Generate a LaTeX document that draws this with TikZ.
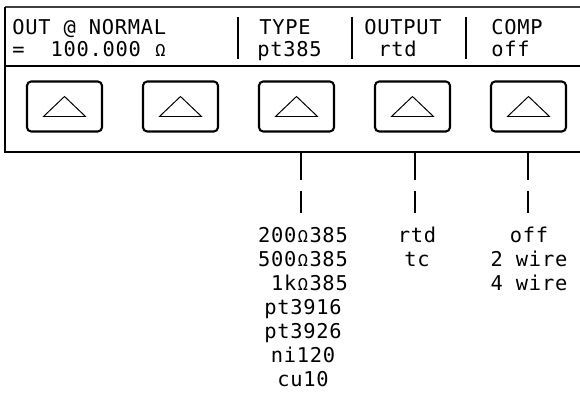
\documentclass[tikz,border=0pt]{standalone}
\usepackage{fontspec}
\newfontfamily\lcdfont[LetterSpace=3.6]{DejaVu Sans Mono}
\newcommand{\ohmsign}{\makebox[9.25pt][c]{\fontsize{12}{12}\selectfont Ω}}
\usetikzlibrary{positioning}

\begin{document}
\begin{tikzpicture}[x=0.025cm,y=-0.025cm, every node/.style={font=\lcdfont\fontsize{14.5}{17.07}\selectfont,inner sep=0pt},
key/.style={draw,line width=1.5pt,rounded corners=3pt,minimum width=1.875cm,minimum height=1.25cm},
frame/.style={line width=0.9pt},
lcd/.style={anchor=base west},
bar/.style={line width=1.5pt},
choices/.style={align=center,anchor=north},
lead/.style={line width=0.8pt}]
\useasboundingbox (0,0) rectangle (580,393);
% front panel
\draw[line width=1.5pt,black!75] (5,7) -- (580,7);
\draw[frame] (5,7) -- (5,152) -- (580,152);
\draw[frame] (5,66) -- (580,66);
% display
\node[lcd] (mode) at (12,35) {OUT @ NORMAL};
\node[lcd] (value) at (12,57) {=\ \ 100.000 \ohmsign};
\node[lcd] (typehd) at (259,35) {TYPE};
\node[lcd] (typeval) at (257,57) {pt385};
\node[lcd] (outhd) at (364,35) {OUTPUT};
\node[lcd] (outval) at (378,57) {rtd};
\node[lcd] (comphd) at (491,35) {COMP};
\node[lcd] (compval) at (491,57) {off};
\foreach \x in {238,352,466}
  \draw[bar] (\x,17) -- (\x,59);
% softkeys
\foreach \i in {1,...,5}{
  \node[key] (k\i) at (-51.5+116*\i,106.5) {};
  \draw[line width=0.7pt] ([shift={(-21,10)}]k\i.center) -- ([shift={(0,-10)}]k\i.center) -- ([shift={(21,10)}]k\i.center) -- cycle;
}
% choices
\coordinate (t3) at (301,152);
\coordinate (t4) at (415,152);
\coordinate (t5) at (528,152);
\node[choices] (types) at (303,227) {200\ohmsign385\\500\ohmsign385\\\ 1k\ohmsign385\\pt3916\\pt3926\\ni120\\cu10};
\node[choices] (outs) at (417,227) {rtd\\tc};
\node[choices] (comps) at (529,227) {off\\2 wire\\4 wire};
\foreach \t in {t3,t4,t5}
  \draw[lead] (\t) -- ++(0,28) ++(0,11) -- ++(0,22);
\end{tikzpicture}
\end{document}
